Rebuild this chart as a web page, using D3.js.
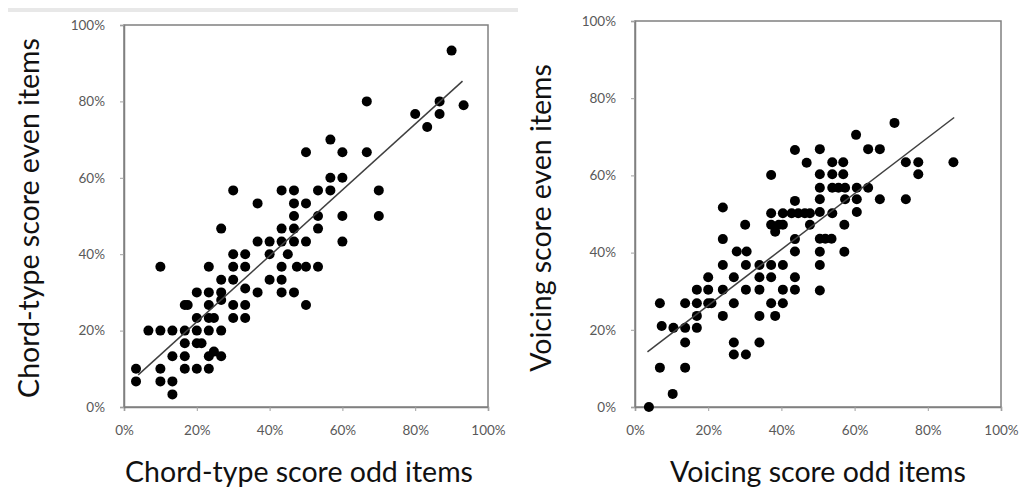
<!DOCTYPE html>
<html>
<head>
<meta charset="UTF-8">
<script src="https://d3js.org/d3.v7.min.js"></script>
<style>
  body { margin: 0; background: #fff; }
  svg { display: block; font-family: Lato, "Open Sans", sans-serif; }
</style>
</head>
<body>
<svg id="chart" width="1027" height="488"></svg>
<script>
// values in percent
var ticks = [0, 20, 40, 60, 80, 100];

var chordPoints = [
  [90, 93.3], [66.7, 80], [86.7, 80], [93.3, 79], [80, 76.7], [86.7, 76.7], [83.3, 73.3],
  [56.7, 70], [50, 66.7], [60, 66.7], [66.7, 66.7], [56.7, 60], [60, 60],
  [30, 56.7], [43.3, 56.7], [46.7, 56.7], [53.3, 56.7], [56.7, 56.7], [70, 56.7],
  [36.7, 53.3], [46.7, 53.3], [50, 53.3],
  [46.7, 50], [53.3, 50], [60, 50], [70, 50],
  [26.7, 46.7], [43.3, 46.7], [46.7, 46.7], [53.3, 46.7],
  [36.7, 43.3], [40, 43.3], [43.3, 43.3], [46.7, 43.3], [50, 43.3], [60, 43.3],
  [30, 40], [33.3, 40], [40, 40], [45, 40],
  [10, 36.7], [23.3, 36.7], [30, 36.7], [33.3, 36.7], [43.3, 36.7], [47.5, 36.7], [50, 36.7], [53.3, 36.7],
  [26.7, 33.3], [30, 33.3], [40, 33.3], [43.3, 33.3],
  [20, 30], [23.3, 30], [26.7, 30], [33.3, 31], [36.7, 30], [43.3, 30], [46.7, 30],
  [16.7, 26.7], [17.5, 26.7], [23.3, 26.7], [26.7, 28], [30, 26.7], [33.3, 26.7], [50, 26.7],
  [20, 23.3], [23.3, 23.3], [24.7, 23.3], [30, 23.3], [33.3, 23.3],
  [6.7, 20], [10, 20], [13.3, 20], [16.7, 20], [20, 20], [23.3, 20], [26.7, 20],
  [16.7, 16.7], [20, 16.7], [21.3, 16.7],
  [13.3, 13.3], [16.7, 13.3], [23.3, 13.3], [24.7, 14.5], [26.7, 13.3],
  [3.3, 10], [10, 10], [16.7, 10], [20, 10], [23.3, 10],
  [3.3, 6.7], [10, 6.7], [13.3, 6.7],
  [13.3, 3.3]
];

var voicingPoints = [
  [70.9, 73.6], [60.4, 70.5], [43.7, 66.6], [50.5, 66.8], [63.7, 66.8], [66.9, 66.8],
  [46.9, 63.3], [53.9, 63.4], [56.9, 63.4], [74, 63.4], [77.4, 63.4], [87, 63.4],
  [37.2, 60.1], [50.5, 60.3], [53.9, 60.3], [56.9, 60.3], [77.4, 60.3],
  [50.5, 56.8], [53.9, 56.8], [55.6, 56.8], [57.4, 56.8], [60.6, 56.8], [63.7, 56.8],
  [43.7, 53.4], [50.5, 53.8], [57.4, 53.8], [60.6, 53.8], [66.9, 53.8], [74, 53.8],
  [24, 51.7],
  [37.2, 50.2], [40.4, 50.2], [42.8, 50.2], [44.6, 50.2], [46.4, 50.2], [47.8, 50.2],
  [50.5, 50.5], [53.9, 50.2], [60.6, 50.5],
  [30.1, 47.2], [37.2, 47.2], [39.3, 47.2], [40.4, 47.2], [47.8, 47.2], [57.2, 47.2], [38.3, 45.4],
  [24, 43.5], [43.7, 43.5], [50.5, 43.6], [52, 43.6], [53.7, 43.6],
  [27.8, 40.3], [30.5, 40.3], [43.7, 40.3], [50.5, 40.2], [57.2, 40.2],
  [24, 36.8], [30.3, 36.8], [34, 36.8], [37.2, 36.8], [40.4, 36.8], [50.5, 36.8],
  [20, 33.6], [27, 33.6], [34, 33.6], [37.2, 33.6], [43.7, 33.6],
  [16.9, 30.4], [20, 30.4], [24, 30.4], [30.3, 30.4], [34, 30.4], [40.4, 30.4], [43.7, 30.4], [50.5, 30.2],
  [6.8, 26.9], [13.7, 26.9], [16.9, 26.9], [20, 26.9], [20.9, 26.9], [27, 26.9], [37.2, 26.9], [40.4, 26.9],
  [16.9, 23.6], [24, 23.6], [34, 23.6], [38.3, 23.6],
  [7.3, 21], [10.5, 20.5], [13.7, 20.5], [16.9, 20.5],
  [13.7, 16.7], [27, 16.7], [34, 16.7],
  [27, 13.6], [30.3, 13.6],
  [6.8, 10.2], [13.7, 10.2],
  [10.3, 3.4], [3.8, 0]
];

// trend line end points as seen in the picture
var chordTrend = [[3.9, 8.4], [93, 85.3]];
var voicingTrend = [[3.4, 14.3], [87.2, 75]];

var svg = d3.select("#chart");

// faint grey strip at the top left of the picture
svg.append("rect").attr("x", 8).attr("y", 8).attr("width", 510).attr("height", 4).attr("fill", "#e8e8e8");

function drawPanel(opts) {
  var x = d3.scaleLinear().domain([0, 100]).range(opts.xr);
  var y = d3.scaleLinear().domain([0, 100]).range(opts.yr);
  var g = svg.append("g");

  g.append("rect")
    .attr("x", x(0)).attr("y", y(100))
    .attr("width", x(100) - x(0)).attr("height", y(0) - y(100))
    .attr("fill", "none").attr("stroke", "#808080").attr("stroke-width", 1.5);

  var xAxis = g.append("g")
    .attr("transform", "translate(0," + y(0) + ")")
    .call(d3.axisBottom(x).tickValues(ticks).tickSize(4).tickPadding(14).tickFormat(function(d) { return d + "%"; }));
  var yAxis = g.append("g")
    .attr("transform", "translate(" + x(0) + ",0)")
    .call(d3.axisLeft(y).tickValues(ticks).tickSize(4).tickPadding(15).tickFormat(function(d) { return d + "%"; }));
  [xAxis, yAxis].forEach(function(a) {
    a.select(".domain").attr("stroke", "#808080").attr("stroke-width", 1.5);
    a.selectAll(".tick line").attr("stroke", "#a0a0a0");
    a.selectAll(".tick text").attr("fill", "#595959").style("font-size", "13.5px").style("font-family", "Lato, sans-serif");
  });

  g.selectAll("circle").data(opts.points).enter().append("circle")
    .attr("cx", function(d) { return x(d[0]); })
    .attr("cy", function(d) { return y(d[1]); })
    .attr("r", 5)
    .attr("fill", "#000");

  g.append("path")
    .attr("d", d3.line().x(function(d) { return x(d[0]); }).y(function(d) { return y(d[1]); })(opts.trend))
    .attr("stroke", "#404040").attr("stroke-width", 1.5).attr("fill", "none");

  g.append("text")
    .attr("x", opts.xTitleX).attr("y", 482)
    .attr("text-anchor", "middle")
    .style("font-size", "28.5px").attr("fill", "#111")
    .text(opts.xTitle);

  g.append("text")
    .attr("transform", "translate(" + opts.yTitleX + "," + opts.yTitleY + ") rotate(-90)")
    .attr("text-anchor", "middle")
    .style("font-size", "28.5px").attr("fill", "#111")
    .text(opts.yTitle);
}

drawPanel({
  xr: [124, 488], yr: [407, 25],
  points: chordPoints, trend: chordTrend,
  xTitle: "Chord-type score odd items", xTitleX: 299,
  yTitle: "Chord-type score even items", yTitleX: 39, yTitleY: 218
});

drawPanel({
  xr: [635, 1001], yr: [407, 21],
  points: voicingPoints, trend: voicingTrend,
  xTitle: "Voicing score odd items", xTitleX: 818,
  yTitle: "Voicing score even items", yTitleX: 551, yTitleY: 218
});
</script>
</body>
</html>
